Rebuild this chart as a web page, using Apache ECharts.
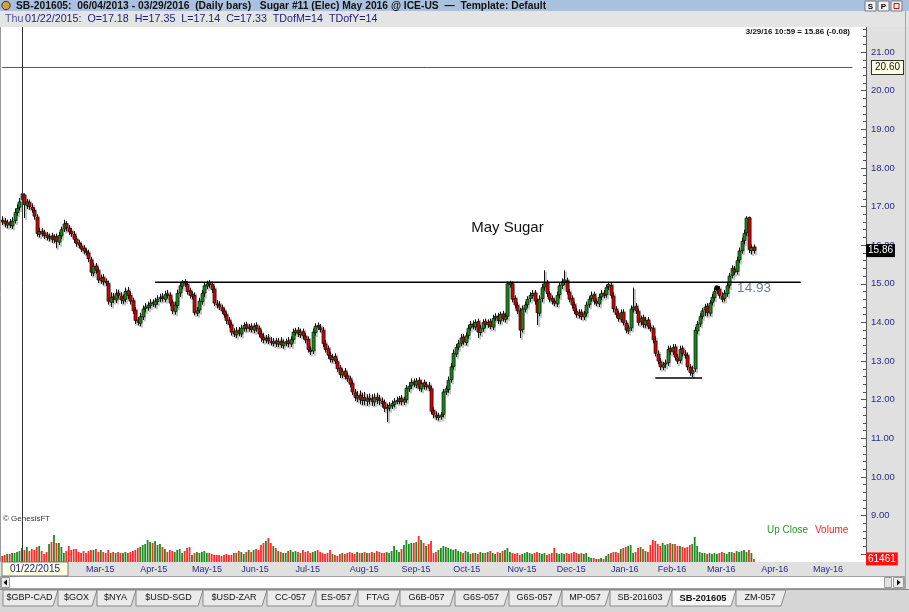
<!DOCTYPE html>
<html><head><meta charset="utf-8">
<script src="https://cdn.jsdelivr.net/npm/echarts@6/dist/echarts.min.js"></script>
<style>html,body{margin:0;padding:0;background:#e0e0e0;overflow:hidden}#c{width:909px;height:612px}</style>
</head><body><div id="c"></div><script>
// ---------- calendar (ICE-US trading days) ----------
const startDate = [2015, 0, 9];
const categoryCount = 351;
const holidays = ['2015-01-19','2015-02-16','2015-04-03','2015-05-25','2015-07-03','2015-09-07','2015-11-26','2015-12-25','2016-01-01','2016-01-18','2016-02-15','2016-03-25','2016-05-30'];
const monthNames = ['Jan','Feb','Mar','Apr','May','Jun','Jul','Aug','Sep','Oct','Nov','Dec'];
const lastLabelMonth = '2016-05';

// ---------- daily bars (Jan 9 2015 .. Mar 29 2016) ----------
const opens = [
16.65,16.62,16.52,16.60,16.50,16.64,16.84,16.98,17.18,17.30,
17.02,17.10,16.98,16.90,16.72,16.28,16.36,16.32,16.26,16.18,
16.24,16.14,16.22,16.08,16.24,16.42,16.56,16.44,16.36,16.28,
16.16,16.06,15.98,15.92,15.84,15.80,15.62,15.28,15.46,15.34,
15.08,15.16,15.06,15.00,14.52,14.66,14.58,14.76,14.68,14.56,
14.60,14.82,14.70,14.56,14.32,14.06,13.98,14.14,14.36,14.38,
14.44,14.52,14.46,14.54,14.62,14.66,14.60,14.74,14.70,14.52,
14.28,14.44,14.76,14.94,15.06,14.98,14.82,14.68,14.70,14.24,
14.32,14.54,14.76,14.94,15.02,14.98,14.86,14.48,14.46,14.38,
14.30,14.20,14.06,13.94,13.76,13.68,13.80,13.70,13.84,13.94,
13.84,13.90,13.80,13.92,13.84,13.70,13.62,13.54,13.60,13.50,
13.46,13.52,13.44,13.52,13.40,13.46,13.52,13.44,13.56,13.74,
13.80,13.68,13.76,13.64,13.56,13.28,13.26,13.74,13.92,13.86,
13.80,13.44,13.32,13.14,13.04,13.12,12.98,12.82,12.64,12.74,
12.62,12.54,12.42,12.18,12.04,12.12,11.98,12.06,11.96,12.04,
12.02,11.94,12.06,12.02,11.96,11.92,11.76,11.78,11.84,11.88,
11.96,11.96,12.04,11.94,12.00,12.28,12.36,12.46,12.38,12.50,
12.28,12.44,12.34,12.36,12.28,11.72,11.60,11.54,11.56,11.62,
12.20,12.26,12.52,12.86,13.18,13.36,13.46,13.62,13.48,13.66,
13.86,13.96,13.88,14.02,13.74,13.84,14.02,13.94,14.02,13.88,
14.12,14.16,14.04,14.22,14.08,14.16,14.98,15.00,14.62,14.44,
14.30,13.82,14.34,14.46,14.62,14.70,14.76,14.54,14.24,14.62,
14.92,15.02,14.74,14.62,14.54,14.48,14.72,14.96,15.04,15.08,
14.78,14.62,14.46,14.28,14.18,14.26,14.14,14.24,14.46,14.62,
14.72,14.54,14.48,14.66,14.76,14.72,14.92,14.96,14.68,14.34,
14.22,14.08,14.26,13.98,13.78,13.86,14.34,14.42,14.28,14.02,
14.12,13.94,14.06,13.88,13.84,13.52,13.18,12.98,12.84,12.92,
12.96,13.32,13.24,13.36,13.08,13.02,13.32,13.18,13.14,12.84,
12.68,12.80,13.78,13.96,14.16,14.32,14.42,14.24,14.52,14.64,
14.82,14.86,14.68,14.62,14.74,14.96,15.22,15.38,15.32,15.62,
15.86,16.12,16.32,16.72,15.86,15.95];
const highs = [
16.75,16.70,16.66,16.68,16.72,16.95,17.05,17.22,17.35,17.34,
17.20,17.18,17.08,16.98,16.80,16.45,16.44,16.40,16.34,16.30,
16.32,16.28,16.30,16.34,16.48,16.66,16.62,16.52,16.44,16.36,
16.24,16.14,16.06,16.00,15.92,15.88,15.70,15.55,15.54,15.42,
15.24,15.25,15.14,15.08,14.78,14.76,14.86,14.85,14.78,14.72,
14.90,14.92,14.80,14.64,14.40,14.14,14.25,14.44,14.50,14.54,
14.60,14.60,14.64,14.70,14.74,14.76,14.82,14.84,14.78,14.60,
14.54,14.85,15.05,15.10,15.12,15.06,14.90,14.80,14.78,14.40,
14.64,14.84,15.04,15.08,15.10,15.06,14.94,14.58,14.55,14.46,
14.38,14.28,14.14,14.02,13.85,13.88,13.88,13.94,14.00,14.02,
13.96,13.98,13.98,14.00,13.92,13.80,13.72,13.68,13.70,13.62,
13.60,13.60,13.60,13.62,13.56,13.58,13.62,13.64,13.84,13.86,
13.88,13.84,13.84,13.72,13.64,13.38,13.84,13.98,14.00,13.96,
13.88,13.54,13.40,13.24,13.18,13.20,13.06,12.90,12.80,12.82,
12.70,12.62,12.50,12.28,12.22,12.24,12.18,12.20,12.14,12.16,
12.14,12.16,12.18,12.12,12.06,12.00,11.90,11.94,11.98,12.04,
12.08,12.10,12.12,12.08,12.38,12.45,12.55,12.55,12.56,12.58,
12.50,12.52,12.46,12.46,12.36,11.80,11.70,11.66,11.68,12.28,
12.36,12.60,12.95,13.30,13.44,13.55,13.70,13.70,13.74,13.94,
14.04,14.05,14.08,14.10,13.94,14.08,14.10,14.08,14.10,14.20,
14.24,14.25,14.28,14.30,14.24,15.06,15.08,15.06,14.70,14.52,
14.38,14.44,14.54,14.68,14.78,14.84,14.84,14.62,14.70,15.00,
15.35,15.10,14.82,14.70,14.62,14.80,15.04,15.14,15.35,15.16,
14.86,14.70,14.54,14.38,14.34,14.34,14.30,14.54,14.68,14.80,
14.80,14.62,14.74,14.84,14.84,14.98,15.05,15.04,14.78,14.42,
14.30,14.34,14.34,14.06,13.94,14.44,14.90,14.50,14.36,14.18,
14.20,14.14,14.14,13.98,13.92,13.64,13.28,13.08,12.98,13.04,
13.40,13.40,13.44,13.44,13.18,13.40,13.40,13.28,13.22,12.92,
12.88,13.88,14.04,14.24,14.38,14.48,14.50,14.58,14.74,14.90,
14.94,14.94,14.78,14.84,15.04,15.28,15.48,15.46,15.70,15.94,
16.20,16.40,16.75,16.74,16.02,16.02];
const lows = [
16.52,16.46,16.44,16.44,16.42,16.56,16.76,16.90,17.14,16.70,
16.94,16.92,16.84,16.66,16.22,16.20,16.22,16.16,16.12,16.10,
16.06,16.06,15.92,16.00,16.16,16.34,16.36,16.26,16.22,16.06,
15.96,15.92,15.82,15.76,15.74,15.56,15.20,15.20,15.26,15.02,
15.00,14.96,14.94,14.46,14.40,14.50,14.50,14.62,14.48,14.48,
14.52,14.60,14.46,14.22,13.96,13.92,13.90,14.06,14.26,14.30,
14.36,14.40,14.38,14.46,14.52,14.54,14.52,14.62,14.42,14.22,
14.20,14.36,14.66,14.86,14.92,14.72,14.62,14.60,14.18,14.16,
14.24,14.46,14.66,14.86,14.90,14.76,14.42,14.36,14.32,14.22,
14.12,13.96,13.86,13.66,13.62,13.60,13.64,13.62,13.76,13.76,
13.76,13.74,13.72,13.76,13.62,13.50,13.46,13.46,13.44,13.40,
13.38,13.36,13.36,13.34,13.32,13.38,13.36,13.36,13.48,13.66,
13.62,13.60,13.56,13.46,13.22,13.16,13.18,13.66,13.80,13.74,
13.36,13.22,13.06,12.96,12.96,12.92,12.72,12.56,12.56,12.52,
12.46,12.32,12.12,11.96,11.94,11.88,11.86,11.86,11.84,11.88,
11.84,11.84,11.88,11.86,11.80,11.68,11.42,11.70,11.76,11.80,
11.88,11.88,11.86,11.86,11.92,12.20,12.28,12.32,12.30,12.22,
12.20,12.26,12.26,12.22,11.62,11.52,11.47,11.46,11.48,11.54,
12.12,12.18,12.44,12.78,13.10,13.28,13.38,13.42,13.40,13.58,
13.78,13.82,13.80,13.60,13.66,13.76,13.86,13.86,13.82,13.80,
14.04,13.96,13.96,14.02,14.00,14.08,14.90,14.52,14.36,14.22,
13.60,13.74,14.26,14.38,14.52,14.62,14.46,13.93,14.16,14.52,
14.82,14.66,14.52,14.46,14.42,14.40,14.62,14.86,14.96,14.72,
14.52,14.36,14.22,14.12,14.10,14.06,14.06,14.16,14.38,14.54,
14.46,14.42,14.40,14.58,14.62,14.64,14.84,14.62,14.26,14.12,
14.02,14.00,13.92,13.72,13.70,13.78,14.26,14.22,13.92,13.92,
13.86,13.86,13.82,13.76,13.46,13.12,12.92,12.76,12.76,12.82,
12.88,13.16,13.16,13.02,12.92,12.94,13.12,13.06,12.76,12.62,
12.58,12.72,13.70,13.88,14.08,14.16,14.16,14.16,14.44,14.56,
14.74,14.62,14.52,14.54,14.66,14.88,15.14,15.22,15.24,15.54,
15.78,16.02,16.24,15.80,15.76,15.78];
const closes = [
16.60,16.55,16.58,16.52,16.62,16.85,16.95,17.12,17.33,17.05,
17.12,17.00,16.92,16.75,16.30,16.35,16.30,16.25,16.20,16.22,
16.15,16.20,16.10,16.25,16.40,16.55,16.45,16.35,16.30,16.15,
16.05,16.00,15.90,15.85,15.82,15.65,15.30,15.45,15.35,15.10,
15.15,15.05,15.02,14.55,14.65,14.60,14.75,14.70,14.58,14.62,
14.80,14.70,14.55,14.30,14.05,14.00,14.15,14.35,14.40,14.45,
14.50,14.48,14.55,14.60,14.65,14.62,14.72,14.70,14.50,14.30,
14.45,14.75,14.95,15.05,15.00,14.80,14.70,14.72,14.25,14.30,
14.55,14.75,14.95,15.00,14.98,14.85,14.50,14.45,14.40,14.30,
14.20,14.05,13.95,13.75,13.70,13.78,13.72,13.85,13.92,13.85,
13.88,13.82,13.90,13.85,13.70,13.60,13.55,13.58,13.52,13.48,
13.50,13.45,13.50,13.42,13.48,13.50,13.45,13.55,13.75,13.78,
13.70,13.75,13.65,13.55,13.30,13.25,13.75,13.90,13.88,13.82,
13.45,13.30,13.15,13.05,13.10,13.00,12.80,12.65,12.72,12.60,
12.55,12.40,12.20,12.05,12.10,12.00,12.05,11.98,12.02,12.00,
11.95,12.05,12.00,11.98,11.90,11.78,11.80,11.85,11.90,11.95,
11.98,12.02,11.95,12.00,12.30,12.35,12.45,12.40,12.48,12.30,
12.42,12.35,12.38,12.30,11.70,11.62,11.55,11.58,11.60,12.20,
12.28,12.50,12.85,13.20,13.35,13.45,13.60,13.50,13.65,13.85,
13.95,13.90,14.00,13.75,13.85,14.00,13.95,14.00,13.90,14.10,
14.15,14.05,14.20,14.10,14.15,15.00,15.02,14.60,14.45,14.30,
13.80,14.35,14.45,14.60,14.70,14.75,14.55,14.25,14.60,14.90,
15.00,14.75,14.60,14.55,14.50,14.70,14.95,15.05,15.10,14.80,
14.60,14.45,14.30,14.20,14.25,14.15,14.22,14.45,14.60,14.70,
14.55,14.50,14.65,14.75,14.70,14.90,14.98,14.70,14.35,14.20,
14.10,14.25,14.00,13.80,13.85,14.35,14.40,14.30,14.00,14.10,
13.95,14.05,13.90,13.85,13.55,13.20,13.00,12.85,12.90,12.95,
13.30,13.25,13.35,13.10,13.00,13.30,13.20,13.15,12.85,12.70,
12.75,13.80,13.95,14.15,14.30,14.40,14.25,14.50,14.65,14.80,
14.85,14.70,14.60,14.75,14.95,15.20,15.40,15.30,15.60,15.85,
16.10,16.30,16.70,15.88,15.94,15.86];
// volume in thousands of contracts
const volumeK = [
120,140,160,160,180,180,200,220,280,240,
300,220,260,240,300,320,220,160,200,360,
400,540,380,380,300,180,220,320,240,260,
260,200,180,220,180,220,240,240,260,200,
240,200,180,240,180,200,180,200,180,180,
200,180,200,220,240,280,300,340,360,440,
400,380,420,340,360,300,260,200,240,220,
200,240,260,180,220,280,300,140,180,200,
180,200,220,180,180,160,140,140,140,120,
140,160,140,140,180,180,220,200,160,200,
240,200,240,260,240,340,380,420,480,380,
320,280,220,200,180,180,220,240,200,220,
200,180,240,200,220,180,200,220,240,200,
180,160,180,240,160,140,120,160,180,160,
180,200,180,160,200,180,180,200,180,180,
200,180,220,200,180,180,200,180,220,320,
240,200,260,340,440,360,380,380,400,520,
440,380,320,360,420,180,200,240,280,320,
300,280,260,240,260,220,200,180,220,200,
160,180,180,160,200,180,180,200,220,180,
160,200,180,220,240,280,200,180,160,180,
140,160,180,200,180,160,180,200,180,160,
180,140,160,180,280,180,160,180,160,180,
160,180,200,180,160,180,160,180,100,80,
80,60,60,80,60,120,160,180,200,200,
180,260,280,300,320,340,180,200,280,300,
260,220,200,340,440,420,360,320,380,340,
360,380,360,360,320,320,300,280,300,340,
360,500,320,200,180,180,160,180,160,180,
160,180,200,180,160,200,200,180,220,200,
220,240,200,240,180,61.461];

// ---------- annotations ----------
const crossIndex = 8;            // Thu 01/22/2015
const refLevel = 20.60;          // horizontal reference line
const refLineEndIndex = 345;
const resistanceLevel = 15.04;   // drawn line
const resistanceRange = [62, 324];
const resistanceLabel = '14.93';
const resistanceLabelAt = [298, 14.89];
const dotAt = [290, 14.90];
const supportLevel = 12.56;
const supportRange = [265, 284];
const titleAt = [205, 16.44];
const priceAxis = {min: 8, max: 22, interval: 1};
const volumeAxisMaxK = 640;
const tabs = ['$GBP-CAD','$GOX','$NYA','$USD-SGD','$USD-ZAR','CC-057','ES-057','FTAG','G6B-057','G6S-057','G6S-057','MP-057','SB-201603','SB-201605','ZM-057'];
const tabEdges = [3,58,97,136,203,267,316,358,400,455,509,562,610,672,736,786];
const activeTab = 'SB-201605';

// ---------- build ----------
function pad(n){return n<10?'0'+n:''+n;}
const dates = [];
{
  const d = new Date(Date.UTC(startDate[0], startDate[1], startDate[2]));
  while (dates.length < categoryCount) {
    const s = d.getUTCFullYear()+'-'+pad(d.getUTCMonth()+1)+'-'+pad(d.getUTCDate());
    const wd = d.getUTCDay();
    if (wd !== 0 && wd !== 6 && holidays.indexOf(s) < 0) dates.push(s);
    d.setUTCDate(d.getUTCDate()+1);
  }
}
const monthStart = dates.map((s,i)=> i>0 && s.slice(0,7)!==dates[i-1].slice(0,7) && s.slice(0,7)<=lastLabelMonth);
function monthLabel(s){return monthNames[+s.slice(5,7)-1]+'-'+s.slice(2,4);}
function usDate(s){return s.slice(5,7)+'/'+s.slice(8,10)+'/'+s.slice(0,4);}

const candleData = closes.map((c,i)=>[i, opens[i], c, lows[i], highs[i]]);
const UP = '#168a16', DOWN = '#d40000';
const volData = volumeK.map((v,i)=>({value:v, itemStyle:{color: (i===0 ? closes[i]>=opens[i] : closes[i]>closes[i-1]) ? '#1f8a1f' : '#ff2a2a'}}));

function renderCandle(params, api){
  const i = api.value(0), o = api.value(1), c = api.value(2), l = api.value(3), h = api.value(4);
  const pO = api.coord([i,o]), pC = api.coord([i,c]), pL = api.coord([i,l]), pH = api.coord([i,h]);
  const x = Math.round(pO[0]) + 0.5;
  const top = Math.min(pO[1], pC[1]), bot = Math.max(pO[1], pC[1]);
  return {type:'group', children:[
    {type:'line', shape:{x1:x+1.5, y1:pH[1]+1.5, x2:x+1.5, y2:pL[1]+1.5}, style:{stroke:'#b8b8b8', lineWidth:1.6}},
    {type:'line', shape:{x1:x, y1:pH[1], x2:x, y2:pL[1]}, style:{stroke:'#111', lineWidth:1}},
    {type:'rect', shape:{x:x-1.5, y:top, width:3, height:Math.max(bot-top,1)}, style:{fill: c>=o?UP:DOWN, stroke:'#111', lineWidth:0.7}}
  ]};
}

const FONT = '"Liberation Sans", Arial, sans-serif';
const last = closes.length-1;
const chg = closes[last]-closes[last-1];
const titleText = 'SB-201605:  06/04/2013 - 03/29/2016  (Daily bars)   Sugar #11 (Elec) May 2016 @ ICE-US  \u2014  Template: Default';
const ci = crossIndex;
const infoText = usDate(dates[ci])+':  O='+opens[ci].toFixed(2)+'  H='+highs[ci].toFixed(2)+'  L='+lows[ci].toFixed(2)+'  C='+closes[ci].toFixed(2)+'  TDofM=14  TDofY=14';
const quoteText = '3/29/16 10:59 = '+closes[last].toFixed(2)+' ('+(chg<0?'-':'+')+Math.abs(chg).toFixed(2)+')';
const lastVolume = Math.round(volumeK[last]*1000);

const graphics = [
  {type:'rect', shape:{x:0,y:0,width:909,height:11}, style:{fill:'#a9c1df'}, z:100},
  {type:'circle', shape:{cx:6,cy:5.5,r:4.2}, style:{fill:'#c9a24a', stroke:'#4a3510', lineWidth:1}, z:101},
  {type:'text', x:16, y:6, style:{text:titleText, font:'bold 10.3px '+FONT, fill:'#111', verticalAlign:'middle'}, z:101},
  {type:'rect', shape:{x:865,y:1,width:11,height:10}, style:{fill:'#f4f4f4', stroke:'#777', lineWidth:1}, z:101},
  {type:'text', x:870.5, y:6.5, style:{text:'S', font:'bold 8px '+FONT, fill:'#000', align:'center', verticalAlign:'middle'}, z:102},
  {type:'rect', shape:{x:878,y:1,width:11,height:10}, style:{fill:'#f4f4f4', stroke:'#777', lineWidth:1}, z:101},
  {type:'text', x:883.5, y:6.5, style:{text:'P', font:'bold 8px '+FONT, fill:'#000', align:'center', verticalAlign:'middle'}, z:102},
  {type:'rect', shape:{x:891,y:1,width:11,height:10}, style:{fill:'#f4f4f4', stroke:'#777', lineWidth:1}, z:101},
  {type:'rect', shape:{x:894,y:3.5,width:5,height:5}, style:{fill:'none', stroke:'#d00', lineWidth:1}, z:102},
  {type:'rect', shape:{x:0,y:11,width:909,height:16}, style:{fill:'#e4e4e4'}, z:100},
  {type:'text', x:5, y:19, style:{text:'Thu', font:'10.7px '+FONT, fill:'#55559a', verticalAlign:'middle'}, z:101},
  {type:'text', x:25, y:19, style:{text:infoText, font:'10.7px '+FONT, fill:'#1c1c7e', verticalAlign:'middle'}, z:101},
  {type:'text', x:850, y:32, style:{text:quoteText, font:'bold 8px '+FONT, fill:'#111', align:'right', verticalAlign:'middle'}, z:101},
  {type:'text', x:3, y:519, style:{text:'\u00a9 GenesisFT', font:'8px '+FONT, fill:'#333', verticalAlign:'middle'}, z:101},
  {type:'text', x:767, y:530.5, style:{text:'Up Close', font:'10px '+FONT, fill:'#2a962a', verticalAlign:'middle'}, z:101},
  {type:'text', x:815, y:530.5, style:{text:'Volume', font:'10px '+FONT, fill:'#ff2020', verticalAlign:'middle'}, z:101},
  {type:'line', shape:{x1:0.5,y1:27,x2:0.5,y2:562}, style:{stroke:'#9a9a9a', lineWidth:1}, z:101},
  {type:'line', shape:{x1:905.5,y1:11,x2:905.5,y2:589}, style:{stroke:'#a8a8a8', lineWidth:1}, z:101},
  {type:'rect', shape:{x:2,y:562,width:66,height:14}, style:{fill:'#ffffe4', stroke:'#777', lineWidth:1}, z:101},
  {type:'text', x:35, y:569.5, style:{text:usDate(dates[ci]), font:'10px '+FONT, fill:'#1c1c7e', align:'center', verticalAlign:'middle'}, z:102},
  {type:'rect', shape:{x:0.5,y:576.5,width:904,height:12}, style:{fill:'#ffffff', stroke:'#a0a0a0', lineWidth:1}, z:100},
  {type:'rect', shape:{x:1.5,y:577.5,width:8,height:10}, style:{fill:'#ececec', stroke:'#999', lineWidth:1}, z:101},
  {type:'polygon', shape:{points:[[3.5,582.5],[7,579.5],[7,585.5]]}, style:{fill:'#000'}, z:102},
  {type:'rect', shape:{x:884.5,y:577.5,width:7,height:10}, style:{fill:'#e2e2e2', stroke:'#999', lineWidth:1}, z:101},
  {type:'rect', shape:{x:893.5,y:577.5,width:10,height:10}, style:{fill:'#ececec', stroke:'#999', lineWidth:1}, z:101},
  {type:'polygon', shape:{points:[[900.5,582.5],[897,579.5],[897,585.5]]}, style:{fill:'#000'}, z:102},
  {type:'rect', shape:{x:0,y:589,width:909,height:23}, style:{fill:'#d6d6d6'}, z:100},
  {type:'line', shape:{x1:0,y1:589.5,x2:909,y2:589.5}, style:{stroke:'#8a8a8a', lineWidth:1}, z:101}
];
tabs.forEach((t,k)=>{
  const xL = tabEdges[k], xR = tabEdges[k+1];
  const act = t===activeTab;
  graphics.push({type:'polygon', shape:{points:[[xL,590],[xR,590],[xR-5,606],[xL,606]]},
    style:{fill: act ? '#f7f7f7' : '#ebebeb', stroke:'#8a8a8a', lineWidth:1}, z:101});
  graphics.push({type:'text', x:(xL+xR)/2 - 1, y:598, style:{text:t, font:(act?'bold 9.3px ':'9px ')+FONT, fill:'#111', align:'center', verticalAlign:'middle'}, z:102});
});

const HIDDEN = {color:'rgba(0,0,0,0)', width:0};
const chart = echarts.init(document.getElementById('c'), null, {renderer:'canvas'});
chart.setOption({
  animation:false,
  backgroundColor:'#e0e0e0',
  grid:[
    {left:1, right:43, top:13.4, height:540.8, show:true, backgroundColor:'#ffffff', borderWidth:0},
    {left:1, right:43, top:530, height:32, show:true, backgroundColor:'#ffffff', borderWidth:0}
  ],
  xAxis:[
    {type:'category', gridIndex:0, data:dates, boundaryGap:true, show:false},
    {type:'category', gridIndex:1, data:dates, boundaryGap:true,
     axisLine:{show:false}, axisTick:{show:false}, splitLine:{show:false},
     axisLabel:{interval:(i)=>monthStart[i], formatter:(v)=>monthLabel(v), align:'left',
       color:'#2a2a88', fontSize:9, fontFamily:FONT, margin:3}}
  ],
  yAxis:[
    {type:'value', gridIndex:0, position:'right', min:priceAxis.min, max:priceAxis.max, interval:priceAxis.interval,
     axisLine:{show:true, lineStyle:{color:'#555', width:1}},
     axisTick:{show:true, inside:true, length:5, lineStyle:{color:'#555'}},
     minorTick:{show:true, splitNumber:5, length:3, lineStyle:{color:'#555'}},
     splitLine:{show:false},
     axisLabel:{formatter:(v)=> (v<=priceAxis.min || v>=priceAxis.max) ? '' : v.toFixed(2),
       color:'#2a2a88', fontSize:9.5, fontFamily:FONT, margin:5}},
    {type:'value', gridIndex:1, min:0, max:volumeAxisMaxK, show:false}
  ],
  graphic: graphics,
  series:[
    {type:'custom', name:'SB', xAxisIndex:0, yAxisIndex:0, data:candleData, renderItem:renderCandle,
     encode:{x:0, y:[1,2,3,4]}, silent:true, clip:false},
    {type:'line', name:'ref', xAxisIndex:0, yAxisIndex:0, symbol:'none', silent:true,
     data:[[dates[0], refLevel],[dates[refLineEndIndex], refLevel]], lineStyle:{color:'#555', width:1}},
    {type:'line', name:'resistance', xAxisIndex:0, yAxisIndex:0, symbol:'none', silent:true,
     data:[[dates[resistanceRange[0]], resistanceLevel],[dates[resistanceRange[1]], resistanceLevel]], lineStyle:{color:'#000', width:1.5},
     markLine:{silent:true, symbol:['none','none'], animation:false,
       data:[
         {xAxis:dates[crossIndex], lineStyle:{color:'#333', width:1, type:'solid'}, label:{show:false}},
         {yAxis:refLevel, lineStyle:HIDDEN, label:{show:true, position:'end', distance:6, formatter:refLevel.toFixed(2),
            backgroundColor:'#ffffe4', borderColor:'#333', borderWidth:1, padding:[2,3,1,3], color:'#111', fontSize:10, fontFamily:FONT}},
         {yAxis:closes[last], lineStyle:HIDDEN, label:{show:true, position:'end', distance:0, formatter:closes[last].toFixed(2),
            backgroundColor:'#000', padding:[2,2,1,2], color:'#fff', fontSize:10, fontFamily:FONT}}
       ]},
     markPoint:{silent:true, animation:false,
       data:[
         {coord:[dates[titleAt[0]], titleAt[1]], symbol:'rect', symbolSize:1, itemStyle:{color:'rgba(0,0,0,0)'},
          label:{show:true, position:'inside', formatter:'May Sugar', fontSize:15, color:'#111', fontFamily:FONT}},
         {coord:[dates[resistanceLabelAt[0]], resistanceLabelAt[1]], symbol:'rect', symbolSize:1, itemStyle:{color:'rgba(0,0,0,0)'},
          label:{show:true, position:'right', distance:0, formatter:resistanceLabel, fontSize:13.5, color:'#6b7c94', fontFamily:FONT}},
         {coord:[dates[dotAt[0]], dotAt[1]], symbol:'circle', symbolSize:5, itemStyle:{color:'#000'}, label:{show:false}}
       ]}
    },
    {type:'line', name:'support', xAxisIndex:0, yAxisIndex:0, symbol:'none', silent:true,
     data:[[dates[supportRange[0]], supportLevel],[dates[supportRange[1]], supportLevel]], lineStyle:{color:'#000', width:1.5}},
    {type:'bar', name:'Volume', xAxisIndex:1, yAxisIndex:1, data:volData, barWidth:1.8,
     markLine:{silent:true, symbol:['none','none'], animation:false,
       data:[
         {xAxis:dates[crossIndex], lineStyle:{color:'#333', width:1, type:'solid'}, label:{show:false}},
         {yAxis:volumeK[last], lineStyle:HIDDEN, label:{show:true, position:'end', distance:0, formatter:''+lastVolume,
            backgroundColor:'#ff1010', padding:[2,2,1,2], color:'#fff', fontSize:10, fontFamily:FONT}}
       ]}
    }
  ]
});
</script></body></html>
